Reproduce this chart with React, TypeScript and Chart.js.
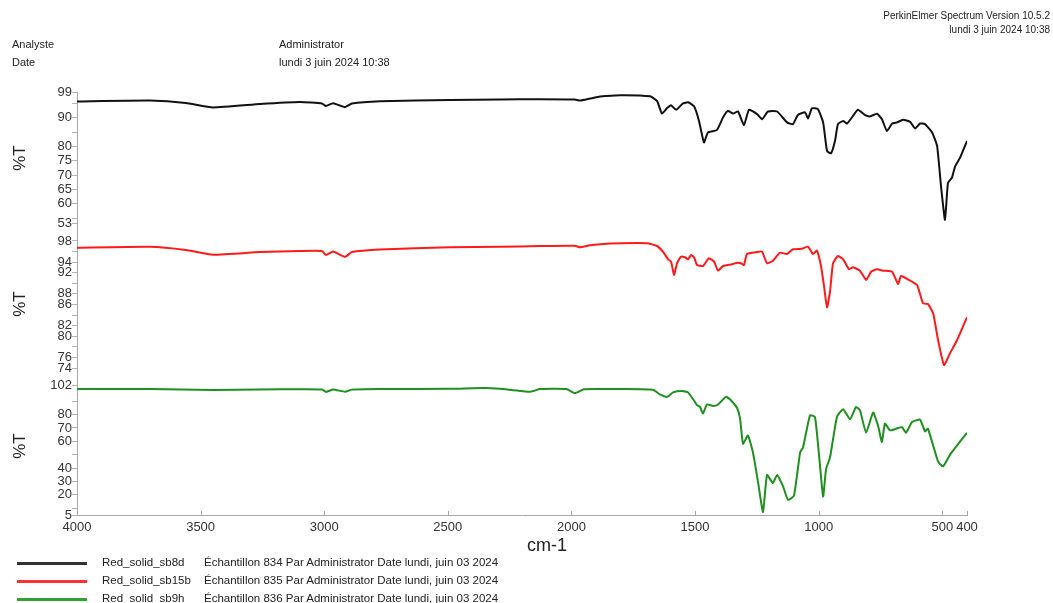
import React, { useEffect, useRef } from 'react';
import { Chart, registerables } from 'chart.js';

Chart.register(...registerables);

// ---------- data (wavenumber cm-1, %T) ----------
const topWn = [4000,3705,3560,3450,3260,3098,3009,2993,2964,2916,2888,2774,2491,2289,2127,1986,1965,1925,1884,1804,1682,1654,1634,1613,1597,1577,1549,1528,1504,1484,1464,1448,1411,1387,1367,1346,1326,1302,1282,1249,1229,1205,1168,1128,1104,1084,1055,1043,1027,1003,982,966,950,934,922,901,885,861,841,812,792,764,744,724,703,683,659,630,610,590,570,541,521,505,489,477,461,448,428,400];
const topT = [95.7,96.0,95.2,93.6,94.8,95.5,95.0,94.1,95.1,93.7,95.0,95.8,96.2,96.4,96.5,96.4,96.0,96.7,97.4,97.9,97.5,95.9,91.5,93.4,94.4,92.8,95.0,95.4,94.0,88.9,81.4,84.9,85.8,90.1,92.4,91.5,92.2,87.4,92.8,91.3,89.5,92.2,92.2,88.4,87.8,91.0,91.9,89.8,93.3,93.0,88.4,78.4,77.6,81.9,87.8,88.9,88.0,90.7,92.8,90.9,90.5,91.4,89.5,85.4,88.0,88.4,89.3,88.6,86.3,88.0,87.8,84.9,80.2,66.1,54.4,67.3,69.1,73.1,76.1,81.9];

const midWn = [4000,3705,3560,3450,3260,3098,3009,2993,2964,2916,2888,2774,2491,2289,2127,1986,1965,1925,1884,1804,1694,1654,1630,1609,1597,1585,1573,1557,1541,1528,1516,1504,1492,1468,1444,1423,1407,1387,1350,1330,1314,1302,1290,1249,1229,1209,1185,1156,1128,1104,1067,1043,1023,1007,990,978,966,954,942,922,901,877,861,833,808,788,764,740,703,679,667,639,602,578,558,537,517,493,469,440,400];
const midT = [96.7,96.9,96.3,95.4,95.9,96.1,96.1,95.35,96.0,95.0,95.9,96.4,96.8,96.9,97.05,97.1,96.8,97.2,97.4,97.57,97.57,97.05,95.98,94.54,94.09,91.57,93.78,95.03,94.92,94.54,95.35,94.92,93.46,93.27,94.73,94.09,92.39,93.27,93.6,93.9,93.78,93.46,95.54,95.92,95.98,93.78,94.28,95.79,95.54,96.43,96.54,96.92,95.54,96.17,93.14,89.36,85.47,88.42,93.78,95.16,94.54,92.65,93.03,92.39,90.63,92.2,92.65,92.39,92.2,89.87,91.38,90.76,89.68,86.22,86.09,84.33,79.29,74.56,76.77,79.29,83.58];

const botWn = [4000,3705,3450,3260,3098,3009,2993,2964,2916,2888,2774,2491,2350,2289,2168,2127,2020,1986,1950,1884,1804,1670,1642,1613,1589,1553,1528,1508,1492,1480,1468,1452,1427,1407,1375,1355,1330,1318,1306,1286,1266,1245,1225,1209,1185,1168,1144,1124,1100,1075,1063,1035,1015,999,982,970,954,926,901,873,849,833,808,780,760,744,732,711,679,663,647,622,590,570,558,517,497,469,400];
const botT = [99.0,99.0,98.3,98.7,98.9,98.7,96.9,98.7,97.0,98.6,99.0,99.2,99.8,99.2,97.0,99.0,99.0,96.0,98.8,99.0,99.0,98.5,95.0,93.2,96.5,97.5,96.5,91.5,87.0,85.7,80.7,87.5,86.4,87.5,93.2,90.7,84.9,77.0,58.2,64.4,51.8,29.3,7.3,34.9,28.8,34.9,26.3,16.3,19.3,51.8,55.6,79.4,78.2,50.6,18.8,39.4,48.1,78.2,84.0,76.4,85.7,83.2,66.4,81.5,71.9,59.4,73.2,68.2,69.9,70.6,66.4,74.4,76.2,67.4,69.4,44.9,41.3,49.9,66.4];

// ---------- ticks ----------
const xTicks = [4000, 3500, 3000, 2500, 2000, 1500, 1000, 500, 400];
const topTickVals = [99, 95, 90, 85, 80, 75, 70, 65, 60, 55, 53];
const topLabels = [99, 90, 80, 75, 70, 65, 60, 53];
const midTickVals = [98, 96, 94, 92, 90, 88, 86, 84, 82, 80, 78, 76, 74];
const midLabels = [98, 94, 92, 88, 86, 82, 80, 76, 74];
const botTickVals = [102, 90, 80, 70, 60, 50, 40, 30, 20, 10, 5];
const botLabels = [102, 80, 70, 60, 40, 30, 20, 5];

// ---------- legend ----------
const seriesNames = ['Red_solid_sb8d', 'Red_solid_sb15b', 'Red_solid_sb9h'];
const seriesDesc = [
  'Échantillon 834 Par Administrator Date lundi, juin 03 2024',
  'Échantillon 835 Par Administrator Date lundi, juin 03 2024',
  'Échantillon 836 Par Administrator Date lundi, juin 03 2024',
];
const seriesColors = ['#111111', '#ff1a1a', '#1f8f1f'];
const legendColors = ['#333333', '#ff3333', '#33a033'];

const FONT = '"Liberation Sans", Arial, Helvetica, sans-serif';

const zip = (xs: number[], ys: number[]) => xs.map((x, i) => ({ x, y: ys[i] }));

const yScale = (
  min: number,
  max: number,
  tickVals: number[],
  labels: number[],
  weight: number,
  stackWeight: number
) => ({
  type: 'linear' as const,
  position: 'left' as const,
  stack: 'spectra',
  stackWeight,
  weight,
  min,
  max,
  afterBuildTicks: (axis: any) => {
    axis.ticks = tickVals.map((v) => ({ value: v }));
  },
  afterFit: (axis: any) => {
    axis.width = 77;
  },
  grid: { drawOnChartArea: false, drawTicks: true, tickLength: 5, color: '#b5b5b5' },
  border: { display: true, color: '#a8a8a8', width: 1 },
  ticks: {
    autoSkip: false,
    padding: 0,
    color: '#333',
    font: { family: FONT, size: 13 },
    callback: (v: any) => (labels.includes(Number(v)) ? String(v) : ''),
  },
});

const innerTicks = {
  id: 'innerTicks',
  afterDraw(chart: any) {
    const x = chart.scales.x;
    const ctx = chart.ctx;
    const y0 = chart.chartArea.bottom;
    ctx.save();
    ctx.strokeStyle = '#a8a8a8';
    ctx.lineWidth = 1;
    xTicks.forEach((v) => {
      const px = Math.round(x.getPixelForValue(v)) + 0.5;
      ctx.beginPath();
      ctx.moveTo(px, y0);
      ctx.lineTo(px, y0 - 4);
      ctx.stroke();
    });
    ctx.restore();
  },
};

function App() {
  const ref = useRef<HTMLCanvasElement | null>(null);

  useEffect(() => {
    if (!ref.current) return;
    const chart = new Chart(ref.current, {
      type: 'line',
      data: {
        datasets: [
          { label: seriesNames[0], data: zip(topWn, topT), yAxisID: 'yTop', borderColor: seriesColors[0], borderWidth: 2, pointRadius: 0, tension: 0.15 },
          { label: seriesNames[1], data: zip(midWn, midT), yAxisID: 'yMid', borderColor: seriesColors[1], borderWidth: 2, pointRadius: 0, tension: 0.15 },
          { label: seriesNames[2], data: zip(botWn, botT), yAxisID: 'yBot', borderColor: seriesColors[2], borderWidth: 2, pointRadius: 0, tension: 0.15 },
        ],
      },
      options: {
        animation: false,
        responsive: false,
        devicePixelRatio: 1,
        layout: { padding: { left: 0, top: 92, right: 86, bottom: 58 } },
        plugins: { legend: { display: false }, tooltip: { enabled: false } },
        scales: {
          x: {
            type: 'linear',
            min: 400,
            max: 4000,
            reverse: true,
            afterBuildTicks: (axis: any) => {
              axis.ticks = xTicks.map((v) => ({ value: v }));
            },
            afterFit: (axis: any) => {
              axis.height = 30;
            },
            grid: { drawOnChartArea: false, drawTicks: false },
            border: { display: true, color: '#a8a8a8' },
            ticks: {
              autoSkip: false,
              maxRotation: 0,
              padding: 5,
              color: '#333',
              font: { family: FONT, size: 13 },
              callback: (v: any) => String(v),
            },
          },
          yBot: yScale(5, 108.4, botTickVals, botLabels, 1, 138.5),
          yMid: yScale(72.4, 99.6, midTickVals, midLabels, 2, 144),
          yTop: yScale(50, 99, topTickVals, topLabels, 3, 140.5),
        } as any,
      },
      plugins: [innerTicks],
    } as any);
    return () => chart.destroy();
  }, []);

  const txt = (extra: React.CSSProperties): React.CSSProperties => ({
    position: 'absolute',
    fontFamily: FONT,
    color: '#222',
    whiteSpace: 'nowrap',
    lineHeight: 1,
    ...extra,
  });

  const pctT = (cy: number) => (
    <div
      style={txt({
        left: 19,
        top: cy,
        fontSize: 17,
        transform: 'translate(-50%, -50%) rotate(-90deg)',
      })}
    >
      %T
    </div>
  );

  const legendY = [563, 581, 599];

  return (
    <div style={{ position: 'fixed', left: 0, top: 0, width: 1053, height: 603, background: '#fff', overflow: 'hidden' }}>
      <canvas ref={ref} width={1053} height={603} style={{ position: 'absolute', left: 0, top: 0, width: 1053, height: 603 }} />
      <div style={txt({ right: 3, top: 11, fontSize: 10, textAlign: 'right' })}>PerkinElmer Spectrum Version 10.5.2</div>
      <div style={txt({ right: 3, top: 25, fontSize: 10, textAlign: 'right' })}>lundi 3 juin 2024 10:38</div>
      <div style={txt({ left: 12, top: 39, fontSize: 11 })}>Analyste</div>
      <div style={txt({ left: 12, top: 57, fontSize: 11 })}>Date</div>
      <div style={txt({ left: 279, top: 39, fontSize: 11 })}>Administrator</div>
      <div style={txt({ left: 279, top: 57, fontSize: 11 })}>lundi 3 juin 2024 10:38</div>
      {pctT(158)}
      {pctT(304)}
      {pctT(446)}
      <div style={txt({ left: 527, top: 536, fontSize: 18 })}>cm-1</div>
      {seriesNames.map((n, i) => (
        <React.Fragment key={n}>
          <div style={{ position: 'absolute', left: 17, top: legendY[i] - 1.5, width: 70, height: 3, background: legendColors[i] }} />
          <div style={txt({ left: 102, top: legendY[i] - 6, fontSize: 11.5 })}>{n}</div>
          <div style={txt({ left: 204, top: legendY[i] - 6, fontSize: 11.5 })}>{seriesDesc[i]}</div>
        </React.Fragment>
      ))}
    </div>
  );
}

export default App;
